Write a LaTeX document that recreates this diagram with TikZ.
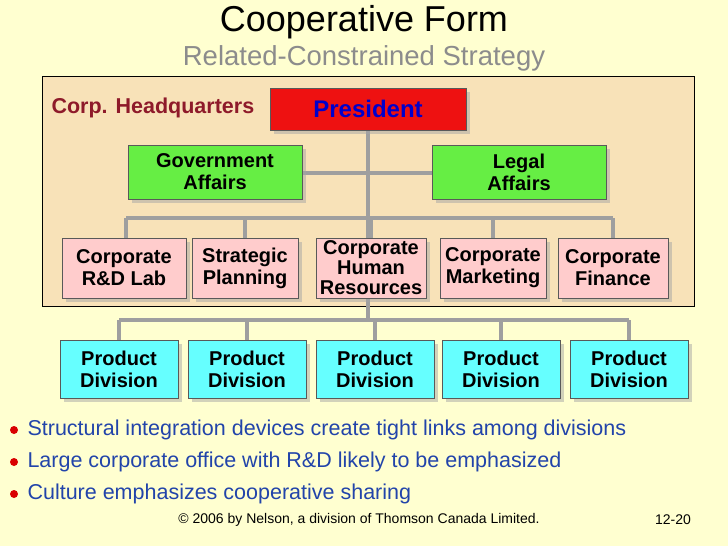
\documentclass[tikz,border=0pt]{standalone}
\usepackage{fontspec}
\setmainfont{Liberation Sans}
\usetikzlibrary{shadows}
\definecolor{slidebg}{HTML}{FFFFD0}
\definecolor{hqbg}{HTML}{F8E2B8}
\definecolor{hqred}{HTML}{8E1A2A}
\definecolor{bultext}{HTML}{2244AA}
\definecolor{pres}{HTML}{EE1111}
\definecolor{staff}{HTML}{66EE44}
\definecolor{unit}{HTML}{FFCCCC}
\definecolor{divis}{HTML}{66FFFF}
\tikzset{
  orgbox/.style={draw=gray!70!black, very thin, align=center, font=\bfseries\fontsize{20}{22}\selectfont,
    inner sep=1pt, drop shadow={shadow xshift=4pt, shadow yshift=-4pt, fill=gray!70}},
  link/.style={draw=gray!75, line width=4.5pt},
  bullettext/.style={anchor=west, text=bultext, font=\fontsize{21.5}{24}\selectfont}
}
\begin{document}
\begin{tikzpicture}[x=1pt,y=-1pt]
\useasboundingbox (0,0) rectangle (728,546);
\fill[slidebg] (0,0) rectangle (728,546);
\node (title) at (364,22) {\fontsize{36}{38}\selectfont Cooperative Form};
\node[text=gray!90] (subtitle) at (364,58) {\fontsize{27.5}{30}\selectfont Related-Constrained Strategy};
% headquarters area
\draw[fill=hqbg, thin] (42,76) rectangle (694,306);
\node[anchor=west, text=hqred, font=\bfseries\fontsize{21.5}{23}\selectfont] (hq) at (48,108) {Corp. Headquarters};
% connectors first
\coordinate (top) at (368,110);
\coordinate (bot) at (368,322);
\draw[link] (top) -- (bot);
\draw[link] (215,173) -- (519,173);
\draw[link] (126,218) -- (613,218);
\draw[link] (119,320) -- (629,320);
\foreach \x in {126,245,371,493,613} \draw[link] (\x,218) -- (\x,250);
\foreach \x in {119,247,375,501,629} \draw[link] (\x,320) -- (\x,350);
% boxes
\node[orgbox, fill=pres, text=blue!80!black, minimum width=196pt, minimum height=42pt] (president) at (368,109) {\fontsize{24}{26}\selectfont President};
\node[orgbox, fill=staff, minimum width=174pt, minimum height=54pt] (gov) at (215,172) {Government\\Affairs};
\node[orgbox, fill=staff, minimum width=174pt, minimum height=54pt] (legal) at (519,172) {Legal\\Affairs};
\node[orgbox, fill=unit, minimum width=124pt, minimum height=60pt] (rnd) at (124,268) {Corporate\\R\&D Lab};
\node[orgbox, fill=unit, minimum width=106pt, minimum height=60pt] (plan) at (245,268) {Strategic\\Planning};
\node[orgbox, fill=unit, minimum width=110pt, minimum height=60pt, font=\bfseries\fontsize{20}{20}\selectfont] (hr) at (371,268) {Corporate\\Human\\Resources};
\node[orgbox, fill=unit, minimum width=106pt, minimum height=60pt] (mkt) at (493,268) {Corporate\\Marketing};
\node[orgbox, fill=unit, minimum width=110pt, minimum height=60pt] (fin) at (613,268) {Corporate\\Finance};
\foreach \x/\n in {119/1,247/2,375/3,501/4,629/5}
  \node[orgbox, fill=divis, minimum width=118pt, minimum height=58pt] (div\n) at (\x,369) {Product\\Division};
% bullets
\foreach \y/\t [count=\i] in {430/Structural integration devices create tight links among divisions,
  462/Large corporate office with R\&D likely to be emphasized,
  494/Culture emphasizes cooperative sharing}{
  \fill[red!85!black] (14,\y) circle (4pt);
  \node[bullettext] (bullet\i) at (24,\y) {\t};
}
\node[font=\fontsize{14}{16}\selectfont] (copy) at (359,520) {© 2006 by Nelson, a division of Thomson Canada Limited.};
\node[font=\fontsize{14}{16}\selectfont] (page) at (673,520) {12-20};
\end{tikzpicture}
\end{document}
